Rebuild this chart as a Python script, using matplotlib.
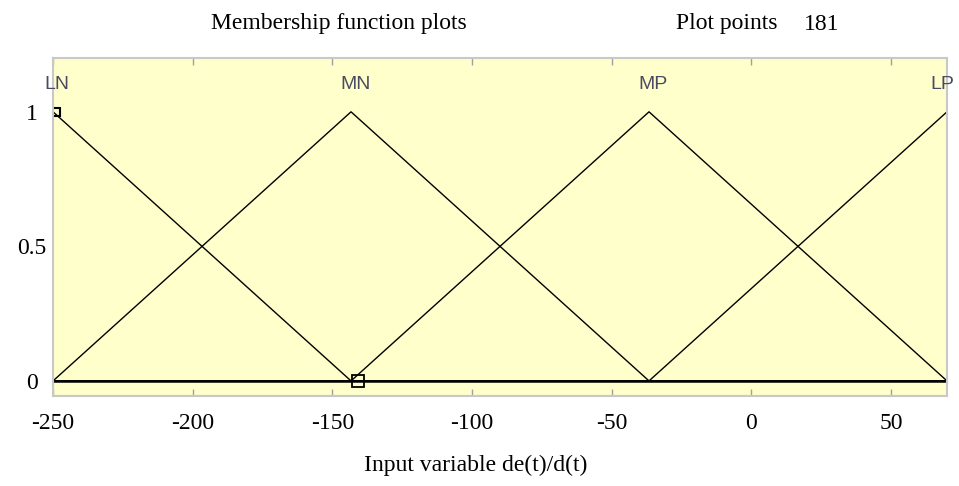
import matplotlib.pyplot as plt
import numpy as np

# Fonctions d'appartenance triangulaires (trimf) : [a, b, c]
mf_noms = ['LN', 'MN', 'MP', 'LP']
mf_params = [
    [-356.67, -250.0, -143.33],
    [-250.0, -143.33, -36.67],
    [-143.33, -36.67, 70.0],
    [-36.67, 70.0, 176.67],
]
x_min, x_max = -250, 70
nb_points = 181

x_ticks = [-250, -200, -150, -100, -50, 0, 50]
y_ticks = [0, 0.5, 1]
y_tick_labels = ['0', '0.5', '1']

# Marqueurs carrés (points sélectionnés)
marq_x = [-249, -141]
marq_y = [1, 0]

serif = ['Liberation Serif', 'DejaVu Serif']
sans = ['Liberation Sans', 'DejaVu Sans']

fig = plt.figure(figsize=(9.59, 4.86), dpi=100)
ax = fig.add_axes([0.0553, 0.1852, 0.9322, 0.6955])
ax.set_facecolor('#ffffcc')

x = np.linspace(x_min, x_max, nb_points)
for nom, (a, b, c) in zip(mf_noms, mf_params):
    y = np.interp(x, [a, b, c], [0, 1, 0])
    ax.plot(x, y, color='black', lw=1.0)
    if b >= x_max:
        ax.text(b + 2.5, 1.1, nom, ha='right', va='center', fontsize=14,
                color='#4a4a60', family=sans)
    else:
        ax.text(b + 1.5, 1.1, nom, ha='center', va='center', fontsize=14,
                color='#4a4a60', family=sans)

# Ligne de base
ax.plot([x_min, x_max], [0, 0], color='black', lw=1.8)

ax.plot(marq_x[:1], marq_y[:1], 's', ms=6, mfc='none', mec='black', mew=1.5)
ax.plot(marq_x[1:], marq_y[1:], 's', ms=8, mfc='none', mec='black', mew=1.3)

ax.set_xlim(x_min, x_max)
ax.set_ylim(-0.056, 1.2)

ax.set_xticks(x_ticks)
ax.set_xticklabels([str(v) for v in x_ticks], family=serif, fontsize=17)
ax.tick_params(axis='x', direction='in', top=True, length=5, width=1,
               color='#a0a0a0', pad=12)
ax.set_yticks(y_ticks)
ax.set_yticklabels(y_tick_labels, family=serif, fontsize=17, ha='center')
ax.tick_params(axis='y', length=0, pad=15)

for s in ax.spines.values():
    s.set_color('#c8c8c8')
    s.set_linewidth(1.5)

fig.text(476 / 959, 1 - 465 / 486, 'Input variable de(t)/d(t)', ha='center',
         va='center', family=serif, fontsize=17)

fig.text(339 / 959, 1 - 24 / 486, 'Membership function plots', ha='center',
         va='center', family=serif, fontsize=17)
fig.text(676 / 959, 1 - 24 / 486, 'Plot points', ha='left', va='center',
         family=serif, fontsize=17)
fig.text(804 / 959, 1 - 24 / 486, '181', ha='left', va='center',
         family=serif, fontsize=17)

fig.savefig('out.png', dpi=100)
